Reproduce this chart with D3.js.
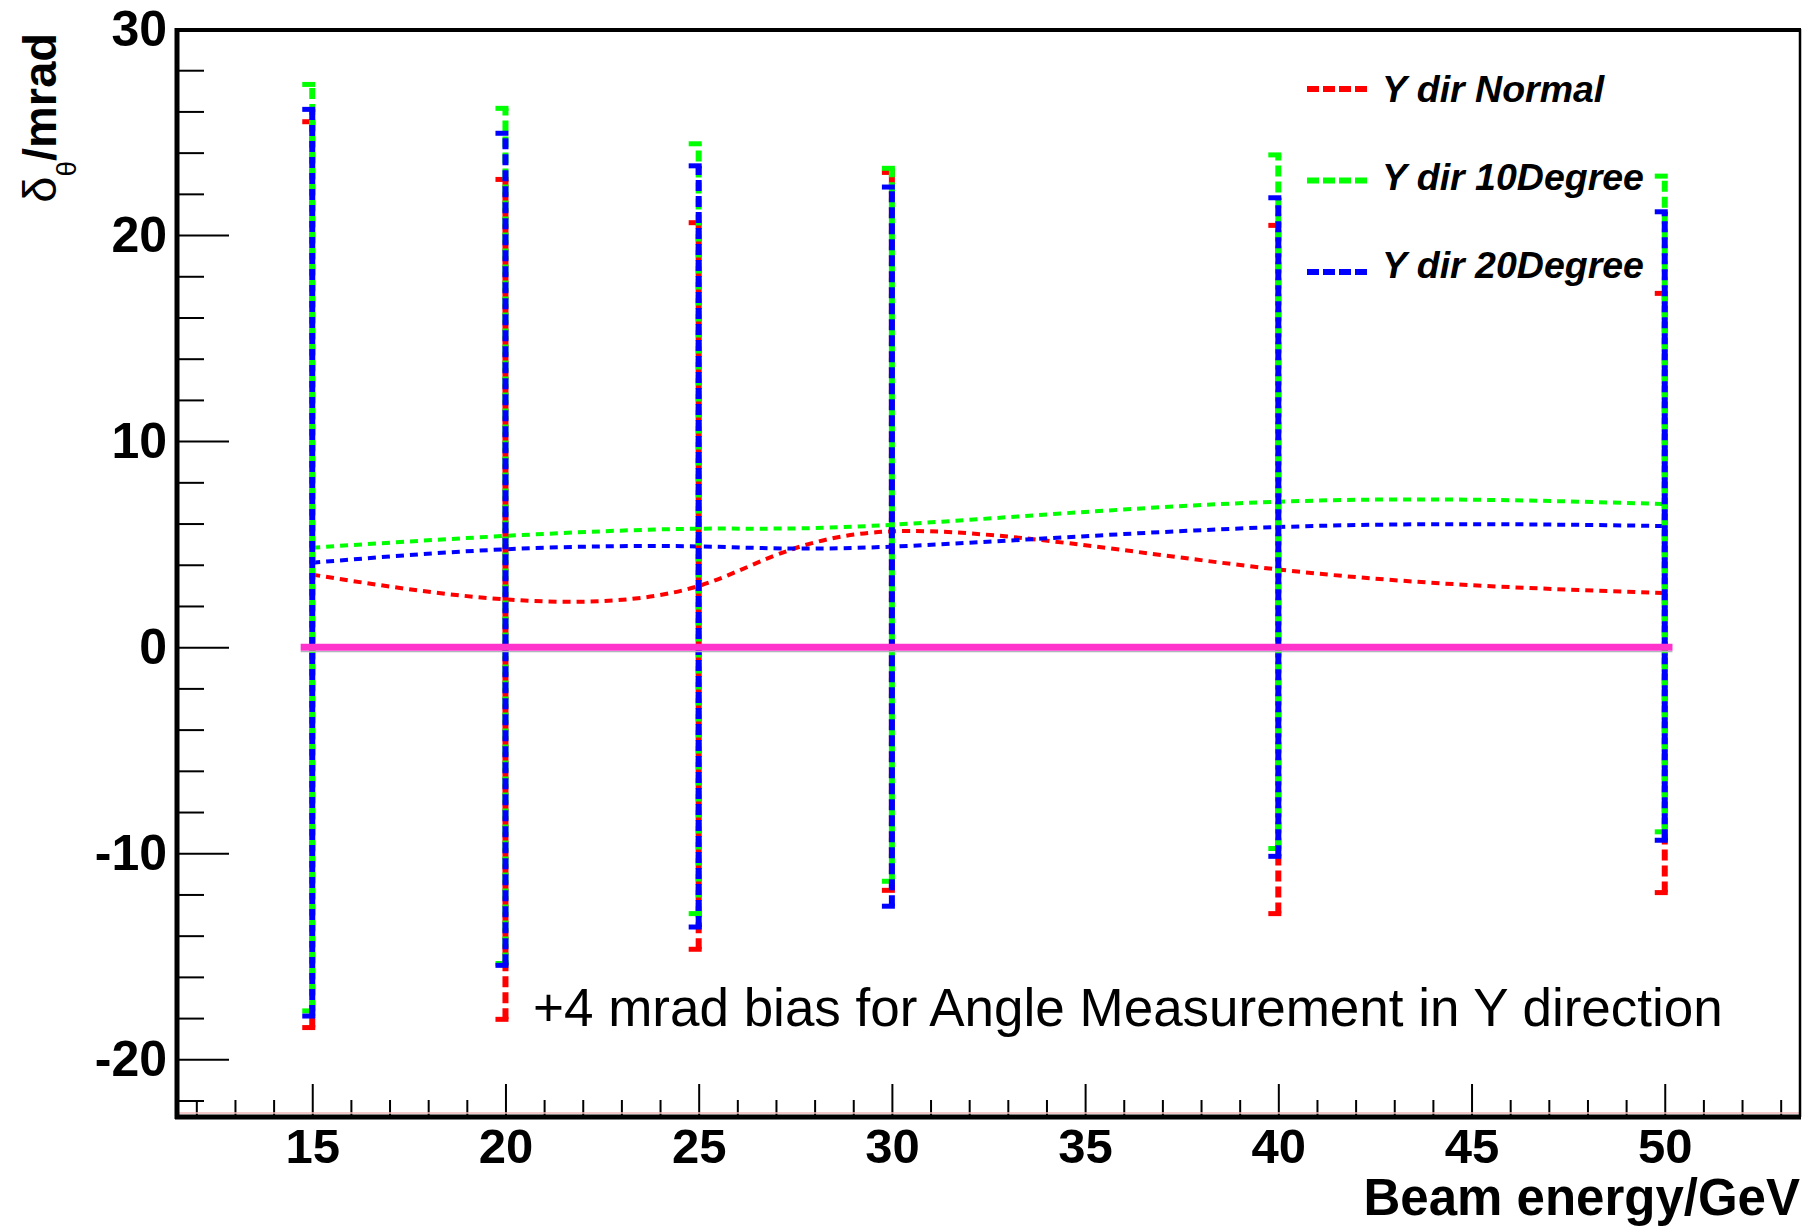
<!DOCTYPE html>
<html>
<head>
<meta charset="utf-8">
<script src="https://cdn.jsdelivr.net/npm/d3@7"></script>
<style>
  body { margin: 0; background: #fff; }
  svg { display: block; }
  text { font-family: "Liberation Sans", Arial, sans-serif; }
</style>
</head>
<body>
<div id="js-canvas"></div>
<script>
"use strict";

// Beam energies where the three configurations were measured.
const energies = [15, 20, 25, 30, 40, 50];

// Mean angle resolution (mrad) and its error bar half-width, per series.
const normalMean = [3.52, 2.32, 2.97, 5.62, 3.77, 2.63];
const normalErr = [21.98, 20.38, 17.63, 17.42, 16.70, 14.54];
const deg10Mean = [4.83, 5.40, 5.75, 5.94, 7.06, 6.95];
const deg10Err = [22.48, 20.75, 18.68, 17.30, 16.83, 15.91];
const deg20Mean = [4.10, 4.75, 4.89, 4.88, 5.83, 5.88];
const deg20Err = [22.00, 20.19, 18.47, 17.45, 15.98, 15.25];

const seriesNames = ["Y dir Normal", "Y dir 10Degree", "Y dir 20Degree"];

// Reference line at zero, and where it starts/stops along x.
const zeroValue = 0;
const zeroSpan = [14.7, 50.2];

const xTickValues = [15, 20, 25, 30, 35, 40, 45, 50];
const yTickValues = [-20, -10, 0, 10, 20, 30];
const xDomain = [11.5, 53.5];
const yDomain = [-22.8, 30];

const annotation = "+4 mrad bias for Angle Measurement in Y direction";
const xTitle = "Beam energy/GeV";

// Styles.
const seriesColors = ["#ff0000", "#00ff00", "#0000ff"];
const width = 1809;
const height = 1228;
const frame = { left: 177, top: 29, right: 1800, bottom: 1117 };
const font = "\"Liberation Sans\", Arial, sans-serif";

function createCanvas() {
  return d3.select("#js-canvas")
    .append("svg")
      .attr("width", width)
      .attr("height", height);
}

function buildSeries() {
  const means = [normalMean, deg10Mean, deg20Mean];
  const errs = [normalErr, deg10Err, deg20Err];
  return seriesNames.map(function (name, i) {
    return {
      name: name,
      color: seriesColors[i],
      points: energies.map(function (e, j) {
        return { x: e, y: means[i][j], err: errs[i][j] };
      })
    };
  });
}

// plain hyphen for negatives, like the original plot
function plainFormat(v) { return String(v); }

function drawAxes(svg, x, y) {
  // y axis: major and minor ticks pointing inwards
  svg.append("g")
    .attr("transform", "translate(" + frame.left + ",0)")
    .call(d3.axisLeft(y).tickValues(d3.range(-22, 30, 2)
      .filter(function (v) { return v % 10 !== 0; }))
      .tickSize(-27).tickSizeOuter(0).tickFormat(""))
    .call(function (g) { g.select(".domain").remove(); })
    .selectAll("line").attr("stroke", "#000").attr("stroke-width", 2);

  const yAxis = svg.append("g")
    .attr("transform", "translate(" + frame.left + ",0)")
    .call(d3.axisLeft(y).tickValues(yTickValues).tickFormat(plainFormat)
      .tickSize(-52).tickSizeOuter(0).tickPadding(10));
  yAxis.select(".domain").remove();
  yAxis.selectAll("line").attr("stroke", "#000").attr("stroke-width", 2);
  yAxis.selectAll("text")
    .attr("font-family", font)
    .attr("font-size", 50)
    .attr("font-weight", "bold")
    .attr("fill", "#000");

  // x axis
  svg.append("g")
    .attr("transform", "translate(0," + frame.bottom + ")")
    .call(d3.axisBottom(x).tickValues(d3.range(12, 54, 1)
      .filter(function (v) { return v % 5 !== 0; }))
      .tickSize(-17).tickSizeOuter(0).tickFormat(""))
    .call(function (g) { g.select(".domain").remove(); })
    .selectAll("line").attr("stroke", "#000").attr("stroke-width", 2);

  const xAxis = svg.append("g")
    .attr("transform", "translate(0," + frame.bottom + ")")
    .call(d3.axisBottom(x).tickValues(xTickValues).tickFormat(plainFormat)
      .tickSize(-33).tickSizeOuter(0).tickPadding(11));
  xAxis.select(".domain").remove();
  xAxis.selectAll("line").attr("stroke", "#000").attr("stroke-width", 2);
  xAxis.selectAll("text")
    .attr("font-family", font)
    .attr("font-size", 49)
    .attr("font-weight", "bold")
    .attr("fill", "#000");
}

function drawFrame(svg) {
  // faint red line sitting on the x axis
  svg.append("line")
    .attr("x1", frame.left).attr("x2", frame.right)
    .attr("y1", frame.bottom - 4).attr("y2", frame.bottom - 4)
    .attr("stroke", "#f2b8b8").attr("stroke-width", 1.5);
  svg.append("line")
    .attr("x1", frame.left).attr("x2", frame.right + 1)
    .attr("y1", frame.top + 1).attr("y2", frame.top + 1)
    .attr("stroke", "#000").attr("stroke-width", 4);
  svg.append("line")
    .attr("x1", frame.right).attr("x2", frame.right)
    .attr("y1", frame.top).attr("y2", frame.bottom)
    .attr("stroke", "#000").attr("stroke-width", 2.5);
  svg.append("line")
    .attr("x1", frame.left).attr("x2", frame.left)
    .attr("y1", frame.top - 1).attr("y2", frame.bottom + 2)
    .attr("stroke", "#000").attr("stroke-width", 5);
  svg.append("line")
    .attr("x1", frame.left - 2).attr("x2", frame.right + 1)
    .attr("y1", frame.bottom).attr("y2", frame.bottom)
    .attr("stroke", "#000").attr("stroke-width", 5);
}

function drawErrorBars(svg, series, x, y) {
  series.forEach(function (s) {
    const g = svg.append("g");
    g.selectAll("line.bar")
      .data(s.points)
      .enter()
      .append("line")
        .classed("bar", true)
        .attr("x1", function (d) { return x(d.x); })
        .attr("x2", function (d) { return x(d.x); })
        .attr("y1", function (d) { return y(d.y - d.err); })
        .attr("y2", function (d) { return y(d.y + d.err); })
        .attr("stroke", s.color)
        .attr("stroke-width", 6)
        .attr("stroke-dasharray", "11,5");
    const ends = [];
    s.points.forEach(function (d) {
      ends.push({ x: d.x, y: d.y - d.err });
      ends.push({ x: d.x, y: d.y + d.err });
    });
    g.selectAll("line.cap")
      .data(ends)
      .enter()
      .append("line")
        .classed("cap", true)
        .attr("x1", function (d) { return x(d.x) - 10; })
        .attr("x2", function (d) { return x(d.x) + 3; })
        .attr("y1", function (d) { return y(d.y); })
        .attr("y2", function (d) { return y(d.y); })
        .attr("stroke", s.color)
        .attr("stroke-width", 5);
  });
}

function drawCurves(svg, series, x, y) {
  const line = d3.line()
    .x(function (d) { return x(d.x); })
    .y(function (d) { return y(d.y); })
    .curve(d3.curveNatural);
  svg.append("g")
    .selectAll("path")
    .data(series)
    .enter()
    .append("path")
      .attr("d", function (s) { return line(s.points); })
      .attr("fill", "none")
      .attr("stroke", function (s) { return s.color; })
      .attr("stroke-width", 4)
      .attr("stroke-dasharray", "8,6");
}

function drawZeroLine(svg, x, y) {
  svg.append("line")
    .attr("x1", x(zeroSpan[0])).attr("x2", x(zeroSpan[1]))
    .attr("y1", y(zeroValue) + 4.5).attr("y2", y(zeroValue) + 4.5)
    .attr("stroke", "#b0b4bc").attr("stroke-width", 1.2);
  svg.append("line")
    .attr("x1", x(zeroSpan[0])).attr("x2", x(zeroSpan[1]))
    .attr("y1", y(zeroValue)).attr("y2", y(zeroValue))
    .attr("stroke", "#ff33cc").attr("stroke-width", 7);
}

function drawLegend(svg, series) {
  const g = svg.append("g");
  series.forEach(function (s, i) {
    const ly = 89 + i * 91.5;
    g.append("line")
      .attr("x1", 1307).attr("x2", 1367)
      .attr("y1", ly).attr("y2", ly)
      .attr("stroke", s.color)
      .attr("stroke-width", 6)
      .attr("stroke-dasharray", "12,4");
    g.append("text")
      .attr("x", 1382)
      .attr("y", 102 + i * 88)
      .attr("font-family", font)
      .attr("font-size", 37.5)
      .attr("font-weight", "bold")
      .attr("font-style", "italic")
      .attr("fill", "#000")
      .text(s.name);
  });
}

function drawTitles(svg) {
  svg.append("text")
    .attr("x", frame.right)
    .attr("y", 1215)
    .attr("text-anchor", "end")
    .attr("font-family", font)
    .attr("font-size", 51)
    .attr("font-weight", "bold")
    .attr("fill", "#000")
    .text(xTitle);

  const yt = svg.append("text")
    .attr("transform", "translate(56,33) rotate(-90)")
    .attr("text-anchor", "end")
    .attr("font-family", font)
    .attr("font-size", 47)
    .attr("fill", "#000");
  yt.append("tspan").text("δ");
  yt.append("tspan")
    .attr("font-size", 28)
    .attr("dy", 20)
    .text("θ");
  yt.append("tspan")
    .attr("dy", -20)
    .attr("font-weight", "bold")
    .text("/mrad");

  svg.append("text")
    .attr("x", 533)
    .attr("y", 1026)
    .attr("font-family", font)
    .attr("font-size", 53)
    .attr("fill", "#000")
    .text(annotation);
}

const svg = createCanvas();
const x = d3.scaleLinear().domain(xDomain).range([frame.left, frame.right]);
const y = d3.scaleLinear().domain(yDomain).range([frame.bottom, frame.top]);
const series = buildSeries();

drawAxes(svg, x, y);
drawCurves(svg, series, x, y);
drawErrorBars(svg, series, x, y);
drawZeroLine(svg, x, y);
drawFrame(svg);
drawLegend(svg, series);
drawTitles(svg);
</script>
</body>
</html>
